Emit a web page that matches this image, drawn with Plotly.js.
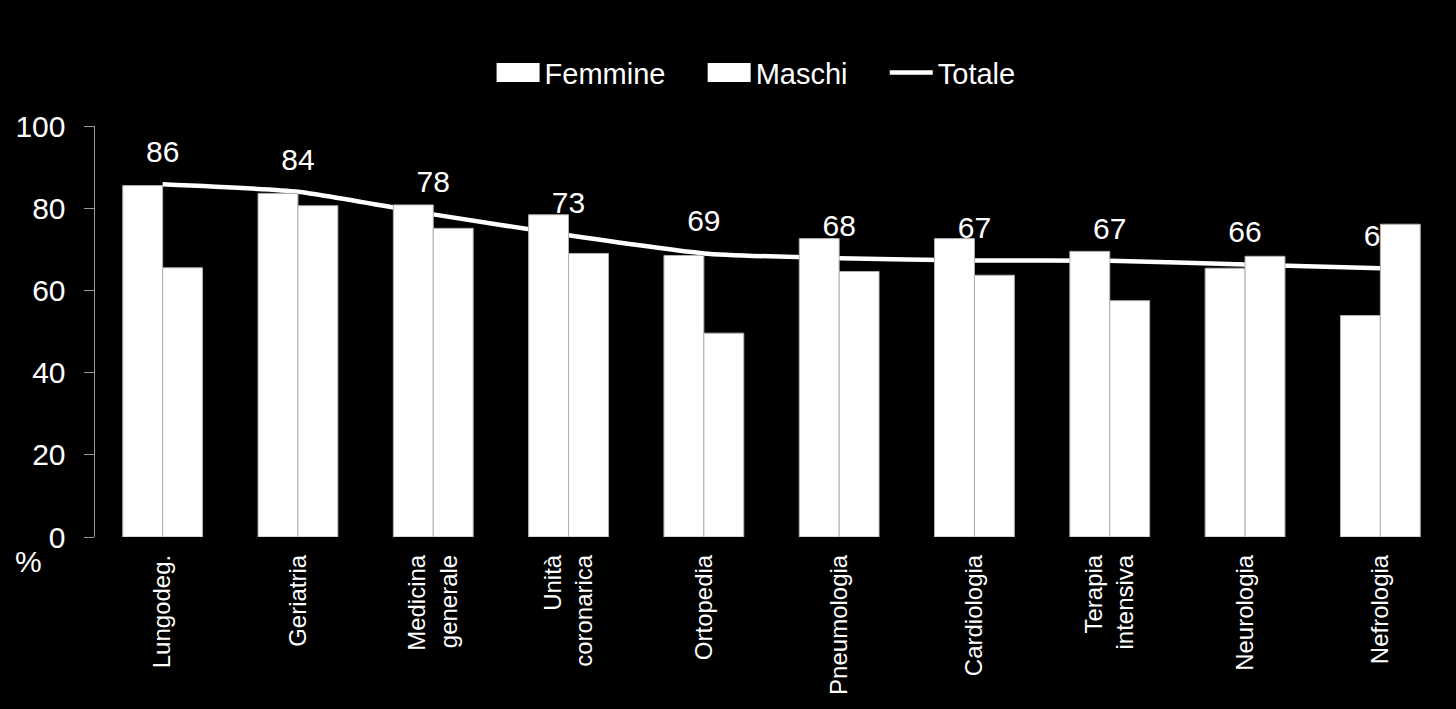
<!DOCTYPE html>
<html>
<head>
<meta charset="utf-8">
<script src="https://cdn.plot.ly/plotly-3.0.1.min.js"></script>
<style>html,body{margin:0;padding:0;background:#000;}#chart{width:1456px;height:709px;}</style>
</head>
<body>
<div id="chart"></div>
<script>
const categories = ["Lungodeg.", "Geriatria", "Medicina<br>generale", "Unità<br>coronarica", "Ortopedia", "Pneumologia", "Cardiologia", "Terapia<br>intensiva", "Neurologia", "Nefrologia"];
const femmine = [85.5, 83.6, 80.8, 78.4, 68.5, 72.6, 72.6, 69.5, 65.4, 53.9];
const maschi = [65.5, 80.6, 75.1, 69.0, 49.6, 64.6, 63.7, 57.5, 68.3, 76.1];
const totale = [85.8, 84.0, 78.5, 73.4, 69.0, 67.8, 67.3, 67.2, 66.3, 65.4];
const totaleLabels = ["86", "84", "78", "73", "69", "68", "67", "67", "66", "65"];
const yTicks = [0, 20, 40, 60, 80, 100];
const seriesNames = ["Femmine", "Maschi", "Totale"];

const font = "Liberation Sans, Arial, sans-serif";
const barLine = {color: "#b0b0b0", width: 1};
const pad = "\u00a0\u00a0\u00a0\u00a0";

const traces = [
  {type: "scatter", mode: "lines+markers+text", name: seriesNames[2], x: categories, y: totale,
   text: totaleLabels, textposition: "top center", textfont: {color: "#fff", size: 30, family: font},
   marker: {size: 22, color: "rgba(0,0,0,0)", line: {width: 0}},
   line: {color: "#fff", width: 4.5, shape: "spline", smoothing: 0.5},
   xaxis: "x", yaxis: "y", legendrank: 3, cliponaxis: false},
  {type: "bar", name: seriesNames[0] + pad, x: categories, y: femmine, marker: {color: "#fff", line: barLine},
   xaxis: "x2", yaxis: "y2", legendrank: 1},
  {type: "bar", name: seriesNames[1] + pad, x: categories, y: maschi, marker: {color: "#fff", line: barLine},
   xaxis: "x2", yaxis: "y2", legendrank: 2}
];

const yax = {range: [0, 100], tickvals: yTicks, ticks: "outside", ticklen: 10, tickcolor: "#999",
  showline: true, linecolor: "#999", linewidth: 1.5, showgrid: false, zeroline: false,
  tickfont: {color: "#fff", size: 30, family: font}, ticklabelstandoff: 12, fixedrange: true};
const xax = {type: "category", range: [-0.5, categories.length - 0.5], autorange: false,
  showline: false, showgrid: false, ticks: "", tickangle: -90,
  tickfont: {color: "#fff", size: 24, family: font}, ticklabelstandoff: 12, zeroline: false};

const layout = {
  width: 1456, height: 709,
  paper_bgcolor: "#000", plot_bgcolor: "#000",
  margin: {l: 95, r: 8, t: 126, b: 172},
  font: {family: font, color: "#fff"},
  barmode: "group", bargap: 0.41, bargroupgap: 0,
  showlegend: true,
  legend: {orientation: "h", x: 0.4886, xanchor: "center", y: 1.13, yanchor: "middle",
    font: {size: 29, color: "#fff", family: font}, bgcolor: "rgba(0,0,0,0)", itemwidth: 43,
    traceorder: "normal"},
  xaxis: xax,
  yaxis: yax,
  xaxis2: Object.assign({}, xax, {overlaying: "x", showticklabels: false}),
  yaxis2: Object.assign({}, yax, {overlaying: "y", showticklabels: false, showline: false, ticks: ""}),
  annotations: [{text: "%", xref: "paper", yref: "paper", xanchor: "center", yanchor: "middle",
    showarrow: false, font: {size: 30, color: "#fff", family: font}}]
};
layout.annotations[0].x = (28 - 95) / (1456 - 95 - 8);
layout.annotations[0].y = (537 - 561) / (709 - 126 - 172);

const gd = document.getElementById("chart");
function widenLegendBars() {
  gd.querySelectorAll(".legend .traces").forEach(function (t) {
    const txt = t.querySelector("text.legendtext");
    if (!txt) return;
    const name = txt.textContent.trim();
    if (name.indexOf("Femmine") === 0 || name.indexOf("Maschi") === 0) {
      t.querySelectorAll(".legendpoints path").forEach(function (p) {
        p.setAttribute("d", "M21.5,9.5H-21.5V-9.5H21.5Z");
        p.style.strokeWidth = "0px";
      });
    }
  });
}

Plotly.newPlot(gd, traces, layout, {displayModeBar: false, staticPlot: true}).then(function () {
  widenLegendBars();
  gd.on("plotly_afterplot", widenLegendBars);
  setTimeout(widenLegendBars, 50);
});
</script>
</body>
</html>
